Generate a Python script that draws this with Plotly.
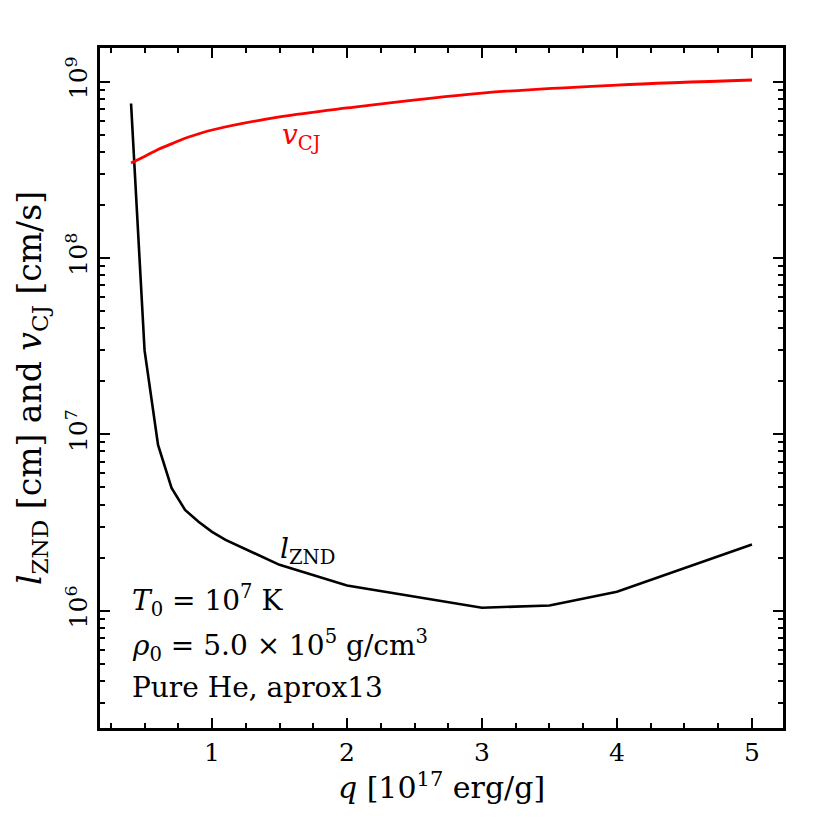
import plotly.graph_objects as go

# q in units of 1e17 erg/g
q_values = [0.4, 0.5, 0.6, 0.7, 0.8, 0.9, 1.0, 1.1, 1.5, 2.0, 3.0, 3.5, 4.0, 5.0]
l_znd = [7.5e8, 3.0e7, 8.7e6, 4.97e6, 3.73e6, 3.19e6, 2.8e6, 2.52e6,
         1.82e6, 1.39e6, 1.04e6, 1.07e6, 1.28e6, 2.37e6]

q_cj = [0.4, 0.5, 0.6, 0.7, 0.8, 0.9, 1.0, 1.5, 2.0, 3.0, 4.0, 5.0]
v_cj = [3.45e8, 3.76e8, 4.12e8, 4.43e8, 4.77e8, 5.05e8, 5.31e8,
        6.3e8, 7.08e8, 8.6e8, 9.55e8, 1.02e9]

x_ticks = [1, 2, 3, 4, 5]
y_ticks = [1e6, 1e7, 1e8, 1e9]
y_ticktext = ["10<sup>6</sup>", "10<sup>7</sup>", "10<sup>8</sup>", "10<sup>9</sup>"]

info_lines = ["<i>T</i><sub>0</sub> = 10<sup>7</sup> K",
              "<i>ρ</i><sub>0</sub> = 5.0 × 10<sup>5</sup> g/cm<sup>3</sup>",
              "Pure He, aprox13"]

FONT = "DejaVu Serif"

y_minor = [m * 10.0 ** e for e in range(5, 10) for m in range(2, 10)]

fig = go.Figure()
fig.add_trace(go.Scatter(x=q_values, y=l_znd, mode="lines",
                         line=dict(color="black", width=2.6), showlegend=False))
fig.add_trace(go.Scatter(x=q_cj, y=v_cj, mode="lines", line_shape="spline",
                         line=dict(color="#ff0000", width=2.8), showlegend=False))

axis_common = dict(showline=True, linecolor="black", linewidth=2.5, mirror="allticks",
                   ticks="inside", ticklen=10, tickwidth=2, tickcolor="black",
                   showgrid=False, zeroline=False, automargin=False,
                   tickfont=dict(family=FONT, size=25, color="black"))

fig.update_xaxes(range=[0.17, 5.23], tickvals=x_ticks,
                 minor=dict(ticks="inside", ticklen=5, tickwidth=1.6, tickcolor="black",
                            dtick=0.25, tick0=0, showgrid=False),
                 title=dict(text="<i>q</i> [10<sup>17</sup> erg/g]",
                            font=dict(family=FONT, size=30, color="black"), standoff=10),
                 **axis_common)
fig.update_yaxes(type="log", range=[5.335, 9.19], tickvals=y_ticks, ticktext=y_ticktext,
                 tickangle=-90,
                 minor=dict(ticks="inside", ticklen=5, tickwidth=1.6, tickcolor="black",
                            tickvals=y_minor, showgrid=False),
                 title=dict(text="<i>l</i><sub>ZND</sub> [cm] and <i>v</i><sub>CJ</sub> [cm/s]",
                            font=dict(family=FONT, size=33, color="black"), standoff=10),
                 **axis_common)

annotations = [
    dict(x=1.66, y=8.69, text="<i>v</i><sub>CJ</sub>",
         font=dict(color="#ff0000", size=28)),
    dict(x=1.71, y=6.34, text="<i>l</i><sub>ZND</sub>",
         font=dict(color="black", size=28)),
]
info_y = [6.057, 5.802, 5.565]
for txt, yy in zip(info_lines, info_y):
    annotations.append(dict(x=0.39, y=yy, text=txt, xanchor="left",
                            font=dict(color="black", size=28)))

for a in annotations:
    a.update(xref="x", yref="y", showarrow=False)
    a["font"]["family"] = FONT
fig.update_layout(annotations=annotations)

fig.update_layout(width=830, height=830, plot_bgcolor="white", paper_bgcolor="white",
                  margin=dict(l=92, r=55, t=40, b=110),
                  font=dict(family=FONT, color="black"))

fig.write_html("out.html")
